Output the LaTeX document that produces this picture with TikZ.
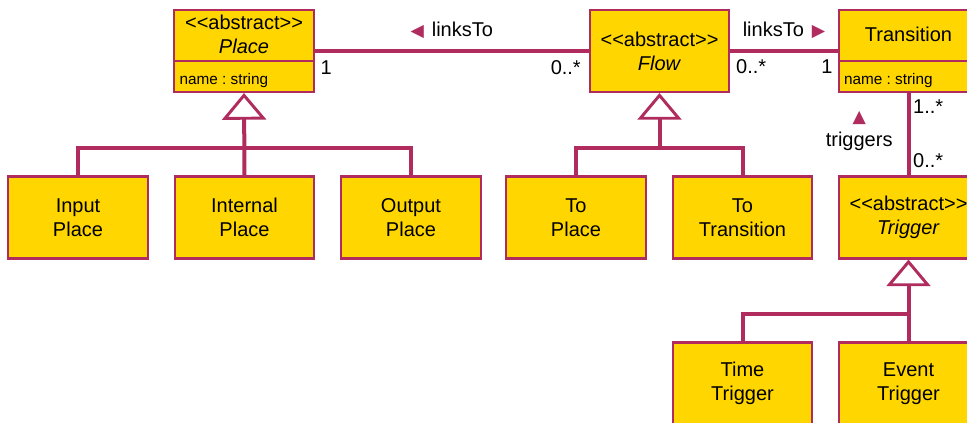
\documentclass[tikz,border=0pt]{standalone}
\usepackage{fontspec}
\setmainfont{Liberation Sans}[Ligatures=TeXOff]
\newfontfamily\symfont{DejaVu Sans}
\usetikzlibrary{arrows.meta,positioning}
\definecolor{umlgold}{RGB}{255,214,0}
\definecolor{umlrot}{RGB}{176,44,94}
\newcommand{\dirleft}{{\symfont\fontsize{13}{13}\selectfont\textcolor{umlrot}{◀}}}
\newcommand{\dirright}{{\symfont\fontsize{13}{13}\selectfont\textcolor{umlrot}{▶}}}
\newcommand{\dirup}{{\symfont\fontsize{13}{13}\selectfont\textcolor{umlrot}{▲}}}
\frenchspacing
\begin{document}
\begin{tikzpicture}[x=0.75pt,y=-0.75pt,
		cls/.style={draw=umlrot, line width=1.6pt, fill=umlgold, minimum width=104.5pt, minimum height=61.5pt, align=center, inner sep=0pt, font=\fontsize{15}{18}\selectfont},
		txt/.style={inner sep=0pt, align=center, font=\fontsize{15}{18}\selectfont},
		attr/.style={inner sep=0pt, font=\fontsize{11.5}{14}\selectfont},
		assoc/.style={draw=umlrot, line width=3pt},
		gen/.style={assoc, -{Triangle[open, fill=white, line width=2.2pt, length=20pt, width=33pt]}}]
		\useasboundingbox (0,0) rectangle (967,423);
		\clip (0,0) rectangle (967,423);
		%Klassen oben
		\node[cls] (place) at (244,51) {};
		\node[txt] (placehead) at ([yshift=-18.75pt]place.north) {<<abstract>>\\\textit{Place}};
		\node[attr, anchor=base west] (placeattr) at ([xshift=4.5pt,yshift=6.5pt]place.south west) {name : string};
		\draw[draw=umlrot, line width=1.6pt] ([yshift=24pt]place.south west) -- ([yshift=24pt]place.south east);
		\node[cls] (flow) at (659.5,51) {<<abstract>>\\\textit{Flow}};
		\node[cls] (trans) at (908.5,51) {};
		\node[txt] (transhead) at ([yshift=-18.75pt]trans.north) {Transition};
		\node[attr, anchor=base west] (transattr) at ([xshift=4.5pt,yshift=6.5pt]trans.south west) {name : string};
		\draw[draw=umlrot, line width=1.6pt] ([yshift=24pt]trans.south west) -- ([yshift=24pt]trans.south east);
		%Unterklassen
		\foreach \n/\x/\t in {input/78/Input,internal/244.5/Internal,output/411/Output}
			\node[cls] (\n) at (\x,217.5) {\t\\Place};
		\node[cls] (toplace) at (576,217.5) {To\\Place};
		\node[cls] (totrans) at (742.5,217.5) {To\\Transition};
		\node[cls] (trigger) at (908.5,217.5) {<<abstract>>\\\textit{Trigger}};
		\node[cls] (timetrig) at (742.5,383.5) {Time\\Trigger};
		\node[cls] (eventtrig) at (908.5,383.5) {Event\\Trigger};
		%Assoziationen
		\draw[assoc] (place.east) -- (flow.west)
			node[midway, txt, anchor=base, yshift=11pt] {\dirleft\hspace{6pt}linksTo}
			node[pos=0, txt, anchor=base west, xshift=3pt, yshift=-18pt] {1}
			node[pos=1, txt, anchor=base east, xshift=-4.5pt, yshift=-18pt] {0..*};
		\draw[assoc] (flow.east) -- (trans.west)
			node[midway, txt, anchor=base, yshift=11pt] {linksTo\hspace{6pt}\dirright}
			node[pos=0, txt, anchor=base west, xshift=3pt, yshift=-17pt] {0..*}
			node[pos=1, txt, anchor=base east, xshift=-2.5pt, yshift=-17pt] {1};
		\draw[assoc] (trans.south) -- (trigger.north)
			node[pos=0, txt, anchor=base west, xshift=2pt, yshift=-15.4pt] {1..*}
			node[pos=1, txt, anchor=base west, xshift=2pt, yshift=6pt] {0..*}
			node[pos=0.65, txt, anchor=base east, xshift=-10.5pt] (trglbl) {triggers};
		\node[txt, above=4pt of trglbl] (trgdir) {\dirup};
		%Vererbung
		\coordinate (placejoin) at (244.5,148);
		\draw[gen] (internal.north) -- (place.south);
		\draw[assoc] (input.north) |- (placejoin) -| (output.north);
		\coordinate (flowjoin) at (659.5,148);
		\draw[gen] (flowjoin) -- (flow.south);
		\draw[assoc] (toplace.north) |- (flowjoin) -| (totrans.north);
		\coordinate (trigjoin) at (908.5,314);
		\draw[gen] (eventtrig.north) -- (trigger.south);
		\draw[assoc] (timetrig.north) |- (trigjoin);
	\end{tikzpicture}
\end{document}
